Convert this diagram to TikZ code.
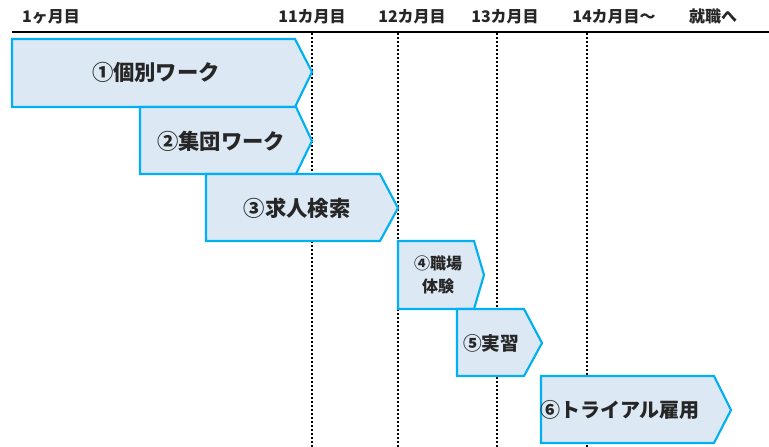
\documentclass[tikz,border=0pt]{standalone}
\usepackage{fontspec}
\setmainfont{Noto Sans CJK JP}
\usepackage{tikz}
\definecolor{barfill}{RGB}{221,232,245}
\definecolor{barline}{RGB}{0,176,240}
\definecolor{txt}{RGB}{38,38,38}
\tikzset{
  phase/.style={draw=barline,fill=barfill,line width=1.6pt,line join=miter},
  grid/.style={line width=1.2pt,dash pattern={on 1.5pt off 1.5pt}},
  head/.style={anchor=base,inner sep=0.75pt,font=\bfseries\fontsize{12}{14}\selectfont,text=txt},
  lab/.style={inner sep=0.75pt,text=txt,align=center,font=\bfseries\fontsize{16}{18}\selectfont}
}

\begin{document}
\begin{tikzpicture}[x=0.75pt,y=0.75pt,yscale=-1,xscale=1]
    \useasboundingbox (0,0) rectangle (769,447);

    %Straight Lines: month grid
    \draw [grid] (312,33) -- (312,447) ;
    \draw [grid] (398,33) -- (398,447) ;
    \draw [grid] (497,33) -- (497,447) ;
    \draw [grid] (587,33) -- (587,447) ;
    %Straight Lines: time axis
    \draw [line width=2pt] (12,32) -- (769,32) ;

    %Shape: Pentagon 1
    \draw [phase] (12,39) -- (295,39) -- (312,72) -- (295,107) -- (12,107) -- cycle ;
    %Shape: Pentagon 2
    \draw [phase] (140,107) -- (296,107) -- (312,141) -- (296,174) -- (140,174) -- cycle ;
    %Shape: Pentagon 3
    \draw [phase] (206,174) -- (380,174) -- (398,208) -- (380,241) -- (206,241) -- cycle ;
    %Shape: Pentagon 4
    \draw [phase] (398,241) -- (474,241) -- (484,275) -- (474,309) -- (398,309) -- cycle ;
    %Shape: Pentagon 5
    \draw [phase] (457,309) -- (524,309) -- (542,343) -- (524,376) -- (457,376) -- cycle ;
    %Shape: Pentagon 6
    \draw [phase] (541,376) -- (714,376) -- (731,410) -- (714,443) -- (541,443) -- cycle ;

    % Text Node
    \node [head] (m1) at (51,22) {1ヶ月目};
    % Text Node
    \node [head] (m11) at (312,22) {11カ月目};
    % Text Node
    \node [head] (m12) at (412,22) {12カ月目};
    % Text Node
    \node [head] (m13) at (505,22) {13カ月目};
    % Text Node
    \node [head] (m14) at (614,22) {14カ月目～};
    % Text Node
    \node [head] (job) at (713,22) {就職へ};

    % Text Node
    \node [lab] (p1) at (156,72) {①個別ワーク};
    % Text Node
    \node [lab] (p2) at (221,141) {②集団ワーク};
    % Text Node
    \node [lab] (p3) at (297,208) {③求人検索};
    % Text Node
    \node [lab,font=\bfseries\fontsize{12}{17}\selectfont] (p4) at (438,275) {④職場\\体験};
    % Text Node
    \node [lab,font=\bfseries\fontsize{14}{16}\selectfont] (p5) at (491,343) {⑤実習};
    % Text Node
    \node [lab,font=\bfseries\fontsize{15}{17}\selectfont] (p6) at (620,410) {⑥トライアル雇用};

\end{tikzpicture}
\end{document}
